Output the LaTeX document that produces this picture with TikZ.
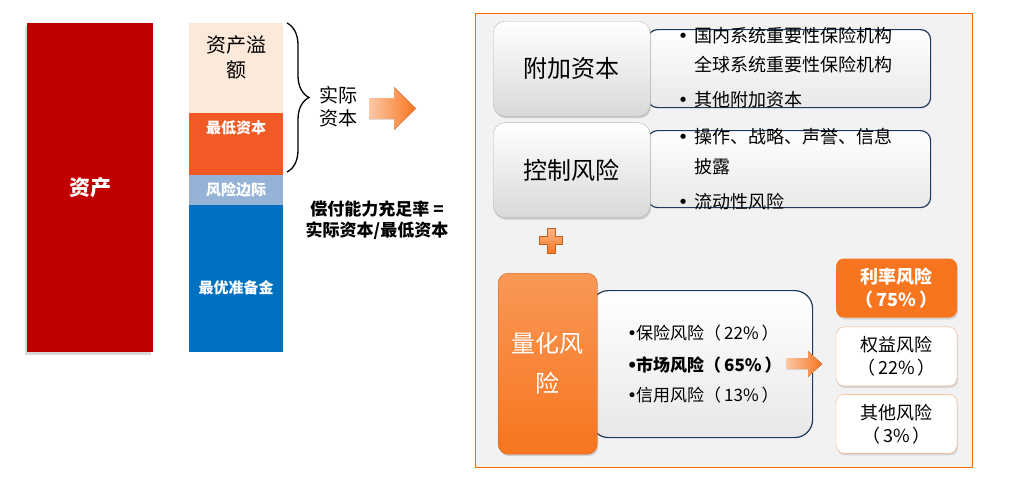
\documentclass[tikz,border=0pt]{standalone}
\usepackage{fontspec}
\setmainfont{Noto Sans CJK SC}
\newfontfamily\bulletfont{DejaVu Sans}
\newcommand{\riskbullet}{{\bulletfont •}}
\usetikzlibrary{positioning,shadows,decorations.pathreplacing}
\definecolor{assetred}{HTML}{C00000}
\definecolor{excesspeach}{HTML}{FDE9D9}
\definecolor{mincaporange}{HTML}{F15A24}
\definecolor{marginblue}{HTML}{95B3D7}
\definecolor{reserveblue}{HTML}{0070C0}
\definecolor{riskorange}{HTML}{F7751E}
\definecolor{panelline}{HTML}{FF6A00}
\definecolor{navy}{HTML}{1F3A5F}

\begin{document}
\begin{tikzpicture}[x=1pt,y=-1pt,
  bar/.style={rectangle,minimum width=94,inner sep=0,outer sep=0,anchor=north},
  wlabel/.style={text=white,font=\bfseries\fontsize{15}{18}\selectfont},
  keybox/.style={rectangle,rounded corners=12,draw=gray!55,top color=white,bottom color=gray!30,
    minimum width=157,minimum height=95,anchor=north west,font=\fontsize{24}{28}\selectfont,
    drop shadow={opacity=.35,shadow xshift=1pt,shadow yshift=-2pt}},
  backbox/.style={rectangle,rounded corners=10,draw=navy,line width=1.2pt,top color=white,
    bottom color=gray!18,anchor=north west},
  item/.style={anchor=west,inner sep=1pt,font=\fontsize{18}{22}\selectfont},
  subitem/.style={anchor=west,inner sep=1pt,font=\fontsize{17}{20}\selectfont},
  sharebox/.style={rectangle,rounded corners=8,minimum width=121,minimum height=59,align=center,
    font=\fontsize{18}{23}\selectfont,drop shadow={opacity=.25,shadow xshift=1pt,shadow yshift=-2pt}},
  blockarrow/.style={left color=riskorange!40,right color=riskorange}]
  \useasboundingbox (0,0) rectangle (1029,482);

  \node[bar,fill=assetred,minimum width=126,minimum height=329,anchor=north west,
    drop shadow={opacity=.3,shadow xshift=-2pt,shadow yshift=-3pt}] (asset) at (27,23) {};
  \node[bar,fill=excesspeach,minimum height=90] (excess) at (236,23) {};
  \node[bar,fill=mincaporange,minimum height=62] (mincap) [below=0pt of excess] {};
  \node[bar,fill=marginblue,minimum height=30] (margin) [below=0pt of mincap] {};
  \node[bar,fill=reserveblue,minimum height=147] (reserve) [below=0pt of margin] {};

  \node[text=white,font=\bfseries\fontsize{21}{24}\selectfont] (assettext) at (asset) {资产};
  \node[align=center,font=\fontsize{20}{25}\selectfont] (excesstext) at (236,57.5) {资产溢\\额};
  \node[wlabel] (mincaptext) at (236,128) {最低资本};
  \node[wlabel] (margintext) at (margin) {风险边际};
  \node[wlabel] (reservetext) at (236,288) {最优准备金};

  \coordinate (bracetop) at (287,23);
  \coordinate (bracebot) at (287,172);
  \draw[line width=1.3pt,decorate,decoration={brace,amplitude=22pt}] (bracetop) -- (bracebot);
  \node[align=center,font=\fontsize{19}{23}\selectfont] (actual) at (338,107) {实际\\资本};
  \fill[blockarrow] (369,98) -- (394,98) -- (394,87) -- (416,108.5) -- (394,130) -- (394,119) -- (369,119) -- cycle;
  \node[align=center,font=\bfseries\fontsize{17}{21}\selectfont] (ratio) at (377,220)
    {偿付能力充足率 =\\实际资本/最低资本};

  \node[draw=panelline,fill=gray!10,line width=1pt,minimum width=497,minimum height=454,
    anchor=north west,inner sep=0] (panel) at (475,13) {};

  \node[backbox,minimum width=283,minimum height=78] (extradetail) at (647,29) {};
  \node[backbox,minimum width=283,minimum height=77] (controldetail) at (647,130) {};
  \node[backbox,rounded corners=18,minimum width=222,minimum height=147] (quantdetail) at (590,290) {};

  \node[keybox] (extra) at (493,21) {附加资本};
  \node[keybox] (control) [below=6pt of extra.south west,anchor=north west] {控制风险};
  \node[rectangle,rounded corners=10,draw=riskorange!85!black,top color=riskorange!75!white,
    bottom color=riskorange,minimum width=99,minimum height=181,anchor=north west,align=center,
    text=white,font=\fontsize{24}{40}\selectfont,
    drop shadow={opacity=.3,shadow xshift=1pt,shadow yshift=-2pt}] (quant) at (498,273) {量化风\\险};

  \node[item] (dsii) at (679,36) {\makebox[6pt][c]{\riskbullet}\hspace{8pt}国内系统重要性保险机构};
  \node[item] (gsii) at (693,65) {全球系统重要性保险机构};
  \node[item] (otherextra) at (679,100) {\makebox[6pt][c]{\riskbullet}\hspace{8pt}其他附加资本};
  \node[item] (oprisk) at (679,137) {\makebox[6pt][c]{\riskbullet}\hspace{8pt}操作、战略、声誉、信息};
  \node[item] (disclose) at (693,167) {披露};
  \node[item] (liquidity) at (679,202) {\makebox[6pt][c]{\riskbullet}\hspace{8pt}流动性风险};

  \node[subitem] (insurance) at (627,333) {\makebox[8pt][c]{\riskbullet}保险风险（\hspace{3pt}22\%\hspace{3pt}）};
  \node[subitem,font=\bfseries\fontsize{17}{20}\selectfont] (market) at (627,365) {\makebox[8pt][c]{\riskbullet}市场风险（\hspace{3pt}65\%\hspace{3pt}）};
  \node[subitem] (credit) at (627,395) {\makebox[8pt][c]{\riskbullet}信用风险（\hspace{3pt}13\%\hspace{3pt}）};

  \draw[riskorange!80!black,line width=.3pt,top color=riskorange!50,bottom color=riskorange]
    (547,228) -- (555,228) -- (555,236) -- (562,236) -- (562,244) -- (555,244) -- (555,253)
    -- (547,253) -- (547,244) -- (539,244) -- (539,236) -- (547,236) -- cycle;
  \fill[blockarrow] (786,358) -- (808,358) -- (808,351) -- (822,364) -- (808,377) -- (808,369) -- (786,369) -- cycle;

  \node[sharebox,fill=riskorange,text=white,font=\bfseries\fontsize{18}{23}\selectfont] (rate) at (896.5,288) {利率风险\\（\hspace{3pt}75\%\hspace{3pt}）};
  \node[sharebox,draw=riskorange!60,fill=white] (equity) [below=9pt of rate] {权益风险\\（\hspace{3pt}22\%\hspace{3pt}）};
  \node[sharebox,draw=riskorange!60,fill=white] (otherrisk) [below=8pt of equity] {其他风险\\（\hspace{3pt}3\%\hspace{3pt}）};
\end{tikzpicture}
\end{document}
